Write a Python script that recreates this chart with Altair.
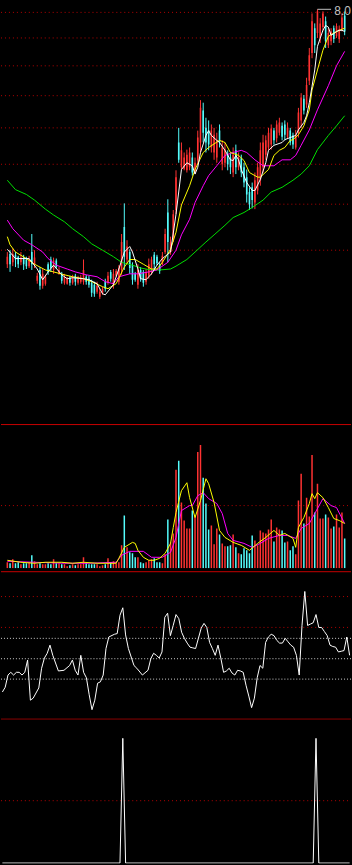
import altair as alt
import pandas as pd

RED = "#ff3232"
CYAN = "#54fcfc"
GRID_RED = "#b40000"
SEP_RED = "#c80000"
GRAY = "#c0c0c0"

N = 125
opens = [4.35, 4.46, 4.37, 4.45, 4.43, 4.37, 4.42, 4.40, 4.33, 4.48,
         4.35, 4.18, 4.29, 4.13, 4.15, 4.35, 4.40, 4.29, 4.39, 4.25,
         4.25, 4.16, 4.15, 4.21, 4.16, 4.23, 4.16, 4.17, 4.17, 4.22,
         4.20, 4.16, 4.14, 4.07, 4.02, 4.06, 4.17, 4.16, 4.27, 4.14,
         4.23, 4.17, 4.29, 4.76, 4.40, 4.48, 4.34, 4.25, 4.14, 4.29,
         4.27, 4.17, 4.23, 4.27, 4.45, 4.43, 4.35, 4.35, 4.48, 4.93,
         4.48, 4.61, 4.96, 5.84, 5.50, 5.48, 5.46, 5.50, 5.63, 5.43,
         5.59, 5.84, 6.31, 6.05, 6.01, 5.77, 5.70, 5.63, 6.01, 5.54,
         5.56, 5.67, 5.63, 5.43, 5.73, 5.50, 5.62, 5.50, 5.37, 5.18,
         5.24, 5.05, 5.20, 5.33, 5.50, 5.67, 5.77, 5.81, 6.01, 5.90,
         5.98, 6.08, 6.10, 5.92, 6.01, 5.94, 5.77, 5.98, 6.16, 6.49,
         6.40, 6.78, 7.25, 7.70, 7.61, 7.52, 7.72, 7.83, 7.39, 7.46,
         7.70, 7.55, 7.50, 7.68, 7.94]
highs = [4.48, 4.50, 4.52, 4.48, 4.44, 4.48, 4.45, 4.43, 4.44, 4.68,
         4.50, 4.26, 4.32, 4.30, 4.24, 4.37, 4.43, 4.42, 4.41, 4.32,
         4.27, 4.25, 4.22, 4.23, 4.24, 4.25, 4.23, 4.24, 4.40, 4.24,
         4.23, 4.19, 4.17, 4.17, 4.10, 4.12, 4.20, 4.27, 4.29, 4.30,
         4.30, 4.34, 4.68, 5.04, 4.61, 4.51, 4.37, 4.27, 4.35, 4.32,
         4.29, 4.30, 4.41, 4.43, 4.48, 4.45, 4.37, 4.48, 4.74, 5.09,
         4.65, 4.96, 5.46, 6.05, 5.84, 5.70, 5.74, 5.77, 5.70, 5.63,
         6.01, 6.47, 6.43, 6.20, 6.16, 6.10, 6.05, 5.98, 6.10, 5.87,
         5.84, 5.73, 5.70, 5.77, 5.81, 5.70, 5.67, 5.56, 5.47, 5.24,
         5.30, 5.43, 5.56, 5.84, 5.95, 5.94, 6.05, 6.10, 6.05, 6.16,
         6.20, 6.13, 6.16, 6.13, 6.05, 5.98, 6.02, 6.35, 6.58, 6.55,
         6.83, 7.34, 7.98, 7.79, 8.06, 7.89, 8.02, 7.92, 7.70, 7.70,
         7.75, 7.79, 7.75, 7.98, 8.02]
lows = [4.31, 4.27, 4.33, 4.32, 4.31, 4.34, 4.29, 4.30, 4.31, 4.29,
        4.31, 4.15, 4.09, 4.10, 4.13, 4.24, 4.27, 4.25, 4.30, 4.24,
        4.15, 4.14, 4.14, 4.13, 4.14, 4.13, 4.14, 4.15, 4.14, 4.14,
        4.11, 4.02, 4.02, 4.05, 4.00, 4.04, 4.07, 4.14, 4.17, 4.10,
        4.22, 4.14, 4.24, 4.29, 4.35, 4.25, 4.14, 4.17, 4.10, 4.17,
        4.12, 4.14, 4.20, 4.24, 4.30, 4.34, 4.25, 4.34, 4.46, 4.37,
        4.45, 4.59, 4.91, 5.56, 5.47, 5.46, 5.43, 5.46, 5.39, 5.41,
        5.54, 5.70, 5.84, 5.70, 5.73, 5.70, 5.60, 5.56, 5.77, 5.46,
        5.50, 5.46, 5.41, 5.37, 5.41, 5.46, 5.37, 5.24, 5.05, 4.96,
        4.98, 4.97, 5.15, 5.26, 5.43, 5.60, 5.73, 5.74, 5.81, 5.84,
        5.94, 5.87, 5.87, 5.90, 5.80, 5.75, 5.74, 5.91, 6.05, 6.25,
        6.35, 6.71, 7.16, 7.25, 7.52, 7.43, 7.64, 7.34, 7.34, 7.39,
        7.43, 7.52, 7.43, 7.64, 7.57]
closes = [4.43, 4.35, 4.46, 4.40, 4.35, 4.42, 4.35, 4.33, 4.40, 4.35,
          4.42, 4.23, 4.13, 4.25, 4.22, 4.27, 4.31, 4.39, 4.32, 4.29,
          4.18, 4.22, 4.20, 4.16, 4.21, 4.17, 4.20, 4.21, 4.29, 4.17,
          4.14, 4.06, 4.05, 4.13, 4.07, 4.10, 4.10, 4.23, 4.20, 4.25,
          4.28, 4.31, 4.59, 4.43, 4.54, 4.31, 4.19, 4.19, 4.29, 4.20,
          4.16, 4.27, 4.35, 4.40, 4.35, 4.36, 4.28, 4.44, 4.68, 4.59,
          4.59, 4.91, 5.37, 5.60, 5.73, 5.63, 5.67, 5.70, 5.43, 5.56,
          5.91, 6.35, 5.98, 5.84, 5.81, 6.01, 5.95, 5.87, 5.84, 5.77,
          5.74, 5.54, 5.50, 5.67, 5.50, 5.63, 5.43, 5.30, 5.15, 5.03,
          5.08, 5.33, 5.50, 5.73, 5.84, 5.87, 5.98, 6.04, 5.87, 6.10,
          6.13, 5.92, 5.95, 6.05, 5.84, 5.81, 5.95, 6.28, 6.51, 6.31,
          6.71, 7.21, 7.83, 7.39, 8.02, 7.79, 7.98, 7.46, 7.61, 7.64,
          7.50, 7.74, 7.68, 7.90, 7.64]
volumes = [6, 5, 9, 5, 6, 4, 5, 5, 6, 13,
           7, 4, 5, 4, 4, 5, 4, 9, 5, 5,
           4, 4, 2, 3, 4, 3, 4, 4, 11, 5,
           4, 4, 4, 4, 2, 3, 4, 10, 6, 7,
           5, 6, 23, 53, 21, 16, 15, 11, 11, 6,
           5, 6, 8, 9, 10, 6, 6, 5, 14, 49,
           26, 35, 99, 108, 66, 48, 40, 40, 58, 53,
           117, 124, 91, 65, 39, 43, 24, 40, 34, 25,
           22, 22, 23, 34, 21, 15, 14, 20, 18, 15,
           33, 28, 23, 38, 36, 35, 39, 49, 27, 41,
           39, 38, 26, 27, 18, 22, 14, 68, 95, 45,
           71, 52, 114, 56, 85, 50, 50, 54, 51, 40,
           42, 54, 41, 56, 30]

# moving-average lines (candle index, price)
ma5_i = [0, 3, 8, 11, 13, 15, 17, 20, 22, 24, 28, 30, 33, 35, 36, 39, 41, 43, 45, 46,
         48, 49, 51, 53, 55, 57, 60, 62, 64, 66, 68, 69, 70, 71, 73, 74, 75, 77, 78, 80,
         82, 83, 84, 85, 86, 88, 90, 91, 93, 95, 96, 98, 101, 102, 104, 106, 107, 109, 110, 111,
         112, 113, 114, 116, 117, 118, 119, 120, 121, 122, 123, 124]
ma5_v = [4.51, 4.41, 4.41, 4.30, 4.19, 4.27, 4.34, 4.24, 4.20, 4.21, 4.20, 4.19, 4.15, 4.05, 4.04, 4.14, 4.30, 4.48, 4.54, 4.48,
         4.30, 4.20, 4.19, 4.25, 4.34, 4.41, 4.48, 4.91, 5.47, 5.56, 5.52, 5.41, 5.50, 5.70, 5.94, 6.01, 5.94, 5.87, 5.84, 5.73,
         5.60, 5.59, 5.66, 5.60, 5.47, 5.30, 5.20, 5.20, 5.34, 5.56, 5.73, 5.80, 5.84, 5.88, 5.91, 5.94, 6.02, 6.13, 6.23, 6.43,
         6.69, 6.96, 7.37, 7.66, 7.75, 7.72, 7.57, 7.60, 7.64, 7.66, 7.66, 7.64]
ma10_i = [0, 1, 3, 7, 10, 14, 17, 21, 24, 28, 31, 35, 37, 40, 43, 45, 47, 50, 53, 55,
          57, 60, 62, 64, 67, 69, 72, 74, 78, 80, 82, 85, 87, 89, 92, 93, 96, 98, 100, 102,
          104, 105, 107, 109, 111, 112, 114, 116, 118, 120, 122, 124]
ma10_v = [4.65, 4.56, 4.48, 4.41, 4.35, 4.29, 4.27, 4.24, 4.22, 4.20, 4.17, 4.12, 4.10, 4.15, 4.32, 4.40, 4.40, 4.35, 4.30, 4.30,
          4.37, 4.51, 4.70, 5.02, 5.26, 5.47, 5.70, 5.77, 5.87, 5.84, 5.70, 5.66, 5.59, 5.43, 5.37, 5.37, 5.47, 5.66, 5.73, 5.77,
          5.87, 5.88, 5.95, 6.08, 6.32, 6.63, 6.96, 7.30, 7.55, 7.61, 7.66, 7.70]
ma20_i = [0, 2, 6, 9, 13, 15, 18, 22, 25, 29, 33, 36, 39, 41, 45, 48, 52, 55, 59, 62,
          64, 67, 69, 72, 74, 77, 80, 83, 86, 88, 91, 94, 98, 101, 104, 106, 108, 111, 114, 118,
          121, 124]
ma20_v = [4.84, 4.74, 4.61, 4.56, 4.48, 4.41, 4.34, 4.30, 4.27, 4.24, 4.22, 4.17, 4.15, 4.22, 4.25, 4.25, 4.27, 4.29, 4.37, 4.50,
          4.67, 4.85, 5.05, 5.26, 5.39, 5.52, 5.66, 5.70, 5.73, 5.70, 5.60, 5.52, 5.52, 5.60, 5.60, 5.66, 5.80, 6.02, 6.32, 6.70,
          7.03, 7.28]
ma60_i = [0, 3, 7, 10, 14, 17, 21, 24, 28, 31, 35, 39, 42, 46, 49, 53, 56, 60, 62, 66,
          69, 73, 76, 80, 83, 87, 90, 94, 97, 101, 105, 108, 111, 114, 118, 121, 124]
ma60_v = [5.33, 5.21, 5.15, 5.08, 4.97, 4.90, 4.82, 4.74, 4.65, 4.57, 4.50, 4.43, 4.37, 4.34, 4.31, 4.29, 4.29, 4.30, 4.33, 4.40,
          4.48, 4.59, 4.67, 4.78, 4.87, 4.93, 4.99, 5.08, 5.18, 5.24, 5.33, 5.41, 5.52, 5.74, 5.94, 6.08, 6.23]

# volume averages (candle index, volume)
vma5_i = [0, 5, 10, 14, 20, 24, 28, 33, 37, 40, 41, 43, 46, 47, 48, 50, 52, 54, 56, 58,
          60, 61, 62, 64, 66, 67, 69, 71, 73, 74, 76, 78, 80, 83, 86, 89, 92, 95, 98, 100,
          102, 105, 106, 107, 109, 111, 112, 113, 114, 116, 118, 120, 122, 124]
vma5_v = [8, 6, 5, 6, 6, 5, 6, 5, 5, 5, 10, 21, 26, 25, 18, 11, 8, 8, 10, 15,
          25, 41, 56, 78, 86, 71, 51, 68, 90, 85, 66, 38, 31, 26, 23, 18, 25, 31, 38, 33,
          35, 30, 21, 41, 51, 65, 75, 70, 76, 71, 61, 50, 48, 45]
vma10_i = [0, 10, 21, 30, 40, 42, 45, 50, 53, 57, 60, 62, 64, 67, 68, 70, 72, 74, 77, 79,
           81, 83, 87, 90, 93, 96, 100, 103, 106, 108, 111, 113, 116, 119, 121, 124]
vma10_v = [7, 6, 5, 5, 6, 13, 17, 17, 11, 11, 16, 31, 58, 63, 63, 73, 76, 70, 65, 55,
           35, 28, 25, 21, 25, 30, 33, 33, 30, 40, 45, 55, 70, 63, 61, 45]

# oscillator (candle index, value)
osc_i = [0, 1, 2, 3, 4, 5, 6, 7, 8, 9, 10, 11, 13, 14, 15, 16, 17, 18, 20, 22,
         24, 25, 26, 27, 28, 29, 30, 31, 32, 33, 34, 35, 36, 37, 38, 40, 41, 42, 43, 44,
         45, 47, 48, 50, 52, 53, 54, 55, 56, 57, 58, 59, 60, 61, 62, 63, 64, 65, 66, 67,
         68, 69, 70, 71, 72, 73, 74, 75, 76, 77, 78, 79, 80, 81, 82, 83, 84, 85, 86, 87,
         88, 89, 90, 91, 92, 93, 94, 95, 96, 97, 98, 99, 100, 101, 102, 103, 104, 105, 106, 107,
         108, 109, 110, 111, 112, 113, 114, 115, 116, 117, 118, 119, 120, 121, 122, 123, 124]
osc_v = [1, 8, 26, 30, 26, 30, 30, 26, 30, 48, -11, -8, 7, 36, 51, 58, 70, 55, 32, 33,
         40, 48, 33, 26, 55, 30, 22, -3, -25, -11, 14, 16, 26, 65, 82, 86, 87, 114, 125, 85,
         65, 40, 36, 26, 33, 50, 58, 55, 51, 60, 111, 117, 84, 99, 115, 109, 89, 80, 73, 67,
         66, 65, 80, 95, 102, 96, 74, 65, 55, 70, 51, 30, 32, 36, 29, 26, 33, 32, 30, 11,
         -5, -22, -8, 22, 40, 36, 74, 82, 86, 84, 77, 73, 73, 80, 75, 70, 67, 55, 26, 99,
         149, 99, 101, 103, 115, 96, 96, 90, 84, 70, 68, 67, 60, 61, 62, 82, 55]

# signal line (candle index, value)
sig_i = [0, 42, 43, 44, 111, 112, 113, 124]
sig_v = [0, 0, 100, 0, 0, 100, 0, 0]

price_grid = [8.00, 7.52, 7.03, 6.54, 6.05, 5.54, 5.03, 4.50]
vol_grid = [63]
osc_red_grid = [96.1, 141.5]
osc_white_grid = [20, 50, 80]
sig_grid = [50]

W = 352
XS = alt.Scale(domain=[-0.5, N - 0.5], nice=False, zero=False)
PRICE = alt.Scale(type="log", domain=[2.955, 8.175], nice=False, zero=False)
VOLS = alt.Scale(domain=[0, 145], nice=False, zero=False)
OSCS = alt.Scale(domain=[-37.8, 183.2], nice=False, zero=False)
SIGS = alt.Scale(domain=[-0.4, 116], nice=False, zero=False)

df = pd.DataFrame({"i": list(range(N)), "open": opens, "high": highs,
                   "low": lows, "close": closes, "vol": volumes})
df["dir"] = ["up" if c >= o else "down" for o, c in zip(opens, closes)]
COLOR = alt.Color("dir:N", scale=alt.Scale(domain=["up", "down"], range=[RED, CYAN]), legend=None)
X = alt.X("i:Q", scale=XS, axis=None)


def line(ix, vals, scale, color):
    d = pd.DataFrame({"i": ix, "v": vals})
    return alt.Chart(d).mark_line(color=color, strokeWidth=1, clip=True).encode(
        x=X, y=alt.Y("v:Q", scale=scale, axis=None))


def grid(vals, scale, color, dash):
    d = pd.DataFrame({"g": vals})
    return alt.Chart(d).mark_rule(color=color, strokeWidth=1, strokeDash=dash, clip=True).encode(
        y=alt.Y("g:Q", scale=scale, axis=None), x=alt.value(0), x2=alt.value(W))


def sep(ypix):
    return alt.Chart(pd.DataFrame({"a": [0]})).mark_rule(color=SEP_RED, strokeWidth=1, clip=True).encode(
        y=alt.value(ypix), x=alt.value(0), x2=alt.value(W))


base = alt.Chart(df)
wicks = base.mark_rule(strokeWidth=1, clip=True).encode(
    x=X, y=alt.Y("low:Q", scale=PRICE, axis=None), y2="high:Q", color=COLOR)
bodies = base.mark_bar(size=1.6, clip=True).encode(
    x=X, y=alt.Y("open:Q", scale=PRICE, axis=None), y2="close:Q", color=COLOR)

imax = highs.index(max(highs))
lab = pd.DataFrame({"i": [imax], "p": [max(highs)], "t": [f"{max(highs):.2f}"]})
lead = alt.Chart(lab).transform_calculate(i2="datum.i + 5").mark_rule(
    color=GRAY, strokeWidth=1, clip=True).encode(
    x=X, x2="i2:Q", y=alt.Y("p:Q", scale=PRICE, axis=None))
txt = alt.Chart(lab).mark_text(align="left", baseline="middle", dx=17, dy=2, fontSize=12,
                               font="Liberation Sans", color=GRAY, clip=True).encode(
    x=X, y=alt.Y("p:Q", scale=PRICE, axis=None), text="t:N")

main = alt.layer(
    grid(price_grid, PRICE, GRID_RED, [1, 3]),
    wicks, bodies,
    line(ma60_i, ma60_v, PRICE, "#00e000"),
    line(ma20_i, ma20_v, PRICE, "#ff00ff"),
    line(ma10_i, ma10_v, PRICE, "#ffff00"),
    line(ma5_i, ma5_v, PRICE, "#ffffff"),
    lead, txt,
).properties(width=W, height=423)

vbars = base.mark_bar(size=1.5, clip=True).encode(
    x=X, y=alt.Y("vol:Q", scale=VOLS, axis=None), color=COLOR)
volp = alt.layer(
    sep(0.5),
    grid(vol_grid, VOLS, GRID_RED, [1, 3]),
    vbars,
    line(vma10_i, vma10_v, VOLS, "#ff00ff"),
    line(vma5_i, vma5_v, VOLS, "#ffff00"),
).properties(width=W, height=145)

oscp = alt.layer(
    sep(3.5),
    grid(osc_red_grid, OSCS, GRID_RED, [1, 3]),
    grid(osc_white_grid, OSCS, "#d0d0d0", [1, 2]),
    line(osc_i, osc_v, OSCS, "#ffffff"),
).properties(width=W, height=151)

sigp = alt.layer(
    sep(0.5),
    grid(sig_grid, SIGS, GRID_RED, [1, 3]),
    line(sig_i, sig_v, SIGS, "#ffffff"),
).properties(width=W, height=146)

chart = alt.vconcat(main, volp, oscp, sigp, spacing=0, bounds="flush").properties(
    padding=0
).configure(background="black").configure_view(stroke="transparent")

chart.save("out.html", embed_options={"renderer": "svg", "actions": False})
